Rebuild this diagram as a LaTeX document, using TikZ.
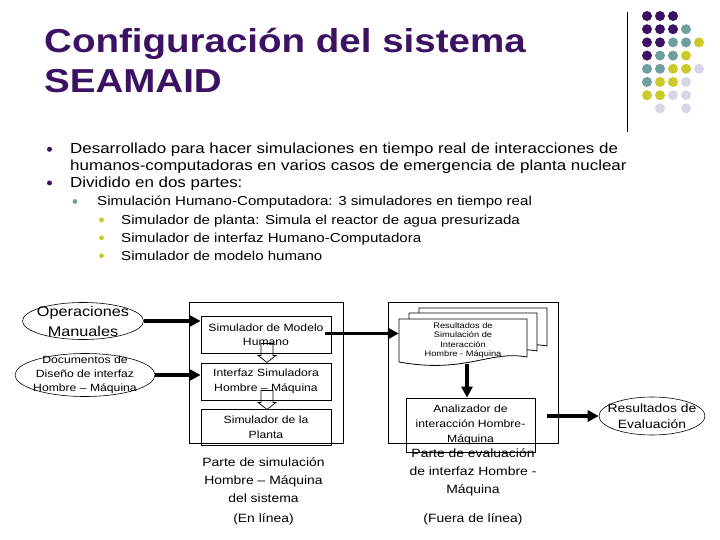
\documentclass[tikz,border=0pt]{standalone}
\usepackage{fontspec}
\setmainfont{Liberation Sans}[FakeStretch=1.16]
\usetikzlibrary{positioning}
\usetikzlibrary{calc}
\usetikzlibrary{arrows.meta}
\usetikzlibrary{shapes.geometric}
\definecolor{seapurple}{RGB}{60,18,98}
\definecolor{seateal}{RGB}{110,158,158}
\definecolor{seayellow}{RGB}{202,202,40}
\definecolor{sealilac}{RGB}{214,214,232}

\begin{document}
\begin{tikzpicture}[x=1pt, y=-1pt,
    ttl/.style={anchor=base west, inner sep=0, text=seapurple, font=\fontsize{33.2}{40}\selectfont\bfseries},
    lvlone/.style={anchor=base west, inner sep=0, font=\fontsize{14.6}{17}\selectfont},
    lvltwo/.style={anchor=base west, inner sep=0, font=\fontsize{13}{17}\selectfont},
    box/.style={draw, line width=0.8pt, inner sep=0, align=center, font=\fontsize{10.5}{14.5}\selectfont},
    frame/.style={draw, line width=0.8pt, inner sep=0},
    oval/.style={draw, ellipse, line width=0.6pt, inner sep=0},
    caption/.style={inner sep=0, align=center, font=\fontsize{12}{18}\selectfont},
    bigarrow/.style={line width=3.5pt, -{Triangle[length=11pt,width=11pt]}},
    hollowdown/.pic={
        \draw[line width=0.7pt] (-6,0) -- (-6,12) -- (-9,12) -- (0,19) -- (9,12) -- (6,12) -- (6,0) -- cycle;
    }]
    \useasboundingbox (0,0) rectangle (720,540);

    % title
    \node[ttl] (title1) at (44,53) {Configuración del sistema};
    \node[ttl] (title2) at (44,93) {SEAMAID};

    % corner decoration
    \draw[line width=0.7pt] (627,12) -- (627,132);
    \foreach \row [count=\r] in {
        {seapurple,seapurple,seapurple,none,none},
        {seapurple,seapurple,seapurple,seateal,none},
        {seapurple,seapurple,seateal,seateal,seayellow},
        {seapurple,seateal,seateal,seayellow,none},
        {seateal,seateal,seayellow,seayellow,sealilac},
        {seateal,seayellow,seayellow,sealilac,none},
        {seayellow,seayellow,sealilac,sealilac,none},
        {none,sealilac,none,sealilac,none}} {
        \foreach \clr [count=\c] in \row {
            \path[fill=\clr] (634+13*\c, 2.8+13.2*\r) circle (5);
        }
    }

    % bullets
    \node[lvlone] (itemA1) at (70,153.5) {Desarrollado para hacer simulaciones en tiempo real de interacciones de};
    \node[lvlone] (itemA2) at (70,170.5) {humanos-computadoras en varios casos de emergencia de planta nuclear};
    \node[lvlone] (itemB) at (70,187.5) {Dividido en dos partes:};
    \node[lvltwo] (itemC) at (97,205.7) {Simulación Humano-Computadora: 3 simuladores en tiempo real};
    \fill[seapurple] (49.5,149.3) circle (2.5);
    \fill[seapurple] (49.5,183) circle (2.5);
    \fill[seateal] (75,201.5) circle (2.4);
    \foreach \t [count=\i] in {Simulador de planta: Simula el reactor de agua presurizada,
                               Simulador de interfaz Humano-Computadora,
                               Simulador de modelo humano} {
        \node[lvltwo] (sub\i) at (121,206.4+17.9*\i) {\t};
        \fill[seayellow] (101.5,202+17.9*\i) circle (2.4);
    }

    % simulation part
    \node[frame, minimum width=154, minimum height=141] (simpart) at (266,372.5) {};
    \node[box, minimum width=130, minimum height=37] (sm) at (266,334.5) {Simulador de Modelo\\Humano};
    \node[box, minimum width=130, minimum height=37] (ifz) at (266,381.5) {Interfaz Simuladora\\Hombre – Máquina};
    \node[box, minimum width=130, minimum height=36] (plant) at (266,427) {Simulador de la\\Planta};
    \pic at ($(sm.south)+(1,-10)$) {hollowdown};
    \pic at ($(ifz.south)+(1,-10)$) {hollowdown};

    \node[oval, minimum width=121, minimum height=37,
          label={[align=center, font=\fontsize{14}{20}\selectfont]center:Operaciones\\Manuales}] (ops) at (83,321) {};
    \node[oval, minimum width=140, minimum height=43,
          label={[align=center, font=\fontsize{10.5}{14}\selectfont]center:Documentos de\\Diseño de interfaz\\Hombre – Máquina}] (docs) at (85,375) {};

    % evaluation part
    \node[frame, minimum width=170, minimum height=141] (evalpart) at (473,372.5) {};
    \foreach \dx/\dy in {20/-11, 10/-6, 0/0} {
        \draw[fill=white, line width=0.8pt, shift={(\dx,\dy)}]
            (399,319) -- (527,319) -- (527,357) .. controls (490,350) and (465,374) .. (399,362) -- cycle;
    }
    \node[inner sep=0, minimum width=128, minimum height=40, align=center,
          font=\fontsize{8}{9.2}\selectfont] (res) at (463,340.5)
          {Resultados de\\Simulación de\\Interacción\\Hombre - Máquina};
    \node[box, minimum width=129, minimum height=54, font=\fontsize{10.5}{15}\selectfont] (ana) at (470.5,425)
          {Analizador de\\interacción Hombre-\\Máquina};
    \node[oval, minimum width=106, minimum height=38,
          label={[align=center, font=\fontsize{12}{16.5}\selectfont]center:Resultados de\\Evaluación}] (eval) at (652,416) {};
    \coordinate (evalfrom) at (547,416);

    % connectors
    \draw[bigarrow] (ops.east) -- (ops.east -| sm.west);
    \draw[bigarrow] (docs.east) -- (docs.east -| ifz.west);
    \draw[bigarrow] ($(sm.east)+(-6,-1)$) -- ($(sm.east -| res.west)+(0,-1)$);
    \draw[bigarrow] ($(res.south)+(4,3)$) -- ($(ana.north)+(-3.5,0)$);
    \draw[bigarrow] (evalfrom) -- (eval.west);

    % captions
    \node[caption] (simcap) at (263.5,480) {Parte de simulación\\Hombre – Máquina\\del sistema};
    \node[caption] (simmode) at (263.5,519) {(En línea)};
    \node[caption] (evalcap) at (473,472.6) {Parte de evaluación\\de interfaz Hombre -\\Máquina};
    \node[caption] (evalmode) at (473,519) {(Fuera de línea)};
\end{tikzpicture}
\end{document}
